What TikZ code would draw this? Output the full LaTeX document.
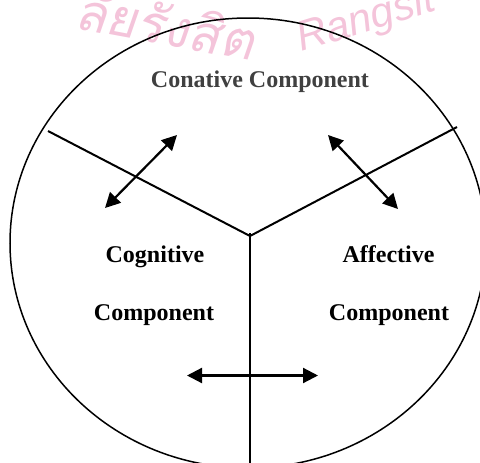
\documentclass[tikz,border=0pt]{standalone}
\usepackage{fontspec}
\setmainfont{Liberation Serif}
\newfontfamily\thaifont[Script=Thai,FakeSlant=0.15]{Loma}
\newfontfamily\wmlatin{Liberation Sans}
\usetikzlibrary{arrows.meta}
\definecolor{wmpink}{RGB}{244,196,218}
\definecolor{darkgraytext}{RGB}{64,64,64}
\tikzset{
  label/.style={font=\fontsize{24}{24}\bfseries\selectfont, inner sep=0pt},
  spoke/.style={line width=2pt},
  axis/.style={line width=2.8pt},
  dblarrow/.style={line width=2.2pt, {Triangle[length=15pt,width=15pt]}-{Triangle[length=15pt,width=15pt]}},
  watermark/.style={text=wmpink, inner sep=0pt}
}
\begin{document}
\begin{tikzpicture}[x=1pt,y=-1pt]
\useasboundingbox (0,0) rectangle (480,463);
\clip (0,0) rectangle (480,463);
% watermark
\node[watermark, anchor=base west, rotate=-10.5, font=\thaifont\fontsize{52}{52}\selectfont] (wmthai) at (73,28) {ลัยรังสิต};
\node[watermark, anchor=base west, rotate=17, font=\wmlatin\itshape\fontsize{42}{42}\selectfont] (wmlat) at (301,52) {Rangsit};
% outline
\draw[line width=1.5pt] (248,243) ellipse [x radius=238pt, y radius=225pt];
% spokes
\coordinate (ctr) at (250,236);
\coordinate (lend) at (48,131);
\coordinate (rend) at (457,127);
\coordinate (vtop) at (250,233);
\coordinate (vbot) at (250,470);
\draw[spoke] (lend) -- (ctr) -- (rend);
\draw[axis] (vtop) -- (vbot);
% arrows
\coordinate (a1) at (177,135); \coordinate (a2) at (105,208);
\coordinate (b1) at (328,135); \coordinate (b2) at (398,209);
\coordinate (c1) at (187,375.5); \coordinate (c2) at (318,375.5);
\draw[dblarrow] (a2) -- (a1);
\draw[dblarrow] (b1) -- (b2);
\draw[dblarrow] (c1) -- (c2);
% labels
\node[label, text=darkgraytext, anchor=base] (con) at (260,87) {Conative Component};
\node[label, anchor=base] (cog1) at (155,262) {Cognitive};
\node[label, anchor=base] (cog2) at (154,320) {Component};
\node[label, anchor=base] (aff1) at (388.5,262) {Affective};
\node[label, anchor=base] (aff2) at (389,320) {Component};
\end{tikzpicture}
\end{document}
